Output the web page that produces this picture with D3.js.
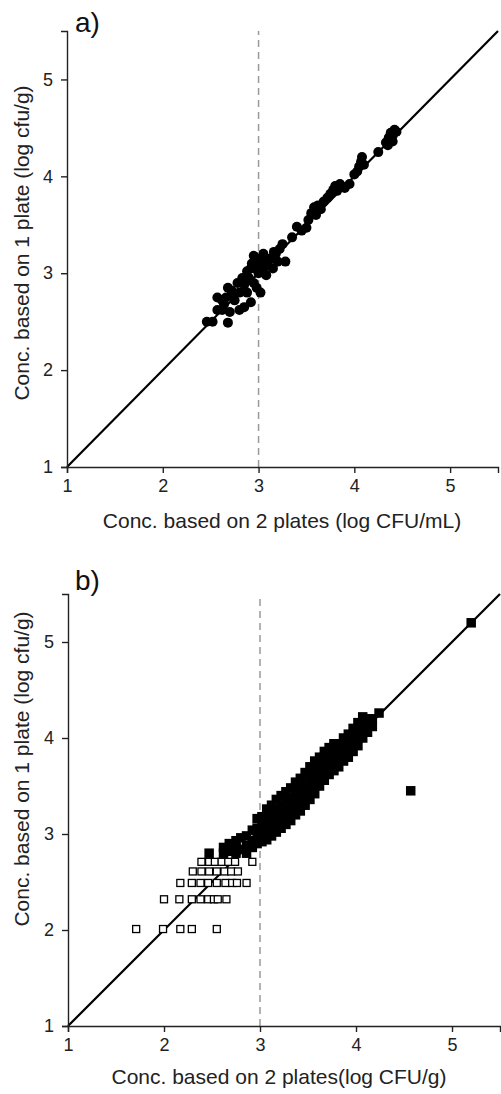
<!DOCTYPE html>
<html>
<head>
<meta charset="utf-8">
<script src="https://cdn.jsdelivr.net/npm/d3@7"></script>
<style>
  body { margin: 0; background: #fff; }
  svg { display: block; font-family: "Liberation Sans", Arial, sans-serif; }
</style>
</head>
<body>
<svg id="chart"></svg>
<script>
// tick labels shared by both panels
var tickVals = [1, 2, 3, 4, 5];
var domainMin = 1, domainMax = 5.5, cutoff = 3;

// panel a) points: [2 plates, 1 plate]
var panelAPoints = [
  [2.46,2.50],[2.52,2.50],[2.68,2.49],[2.57,2.62],[2.62,2.62],[2.70,2.60],[2.57,2.75],
  [2.62,2.72],[2.66,2.75],[2.75,2.72],[2.72,2.82],[2.80,2.80],[2.68,2.85],[2.78,2.90],
  [2.85,2.88],[2.90,2.95],[2.95,2.90],[2.88,3.02],[2.97,3.05],[3.00,3.00],[2.93,3.10],
  [2.98,3.15],[3.03,3.12],[3.05,3.05],[3.08,2.98],[3.10,3.08],[3.15,3.05],[3.12,3.15],
  [3.18,3.20],[3.20,3.12],[3.22,3.25],[3.25,3.30],[3.28,3.12],[3.02,2.80],[2.88,2.80],
  [2.98,2.85],[2.85,2.65],[2.80,2.62],[2.95,3.18],[3.05,3.20],[3.00,3.08],[2.92,2.70],
  [2.74,2.78],[2.83,2.95],[2.92,3.05],[3.08,3.15],[3.16,3.22],[2.64,2.68],
  [3.35,3.37],[3.40,3.48],[3.50,3.47],[3.52,3.55],[3.55,3.62],[3.58,3.68],[3.60,3.60],
  [3.62,3.70],[3.65,3.66],[3.72,3.78],[3.75,3.82],[3.78,3.86],[3.80,3.90],[3.82,3.85],
  [3.85,3.92],[3.88,3.89],[3.90,3.88],[3.95,3.92],[3.68,3.74],[3.45,3.44],
  [4.00,4.02],[4.03,4.05],[4.05,4.10],[4.07,4.15],[4.08,4.20],[4.10,4.12],[4.25,4.25],
  [4.33,4.35],[4.36,4.40],[4.38,4.45],[4.40,4.42],[4.42,4.48],[4.44,4.46],[4.40,4.36],
  [4.35,4.32]
];

// panel b) filled squares, by column: [2 plates, [1 plate values]]
var panelBFilledCols = [
  [2.47,[2.80]],
  [2.62,[2.80,2.86]],
  [2.68,[2.82,2.90]],
  [2.75,[2.80,2.86,2.93]],
  [2.80,[2.84,2.96]],
  [2.86,[2.80,2.88,2.98]],
  [2.92,[2.86,2.93,3.04]],
  [2.97,[2.90,2.98,3.06,3.16]],
  [3.02,[2.92,3.00,3.08,3.18]],
  [3.07,[2.94,3.02,3.10,3.18,3.26]],
  [3.12,[2.98,3.06,3.14,3.22,3.30]],
  [3.17,[3.02,3.10,3.18,3.26,3.36]],
  [3.22,[3.06,3.14,3.22,3.30,3.40]],
  [3.27,[3.10,3.18,3.26,3.34,3.44]],
  [3.32,[3.14,3.22,3.30,3.38,3.48]],
  [3.37,[3.20,3.28,3.36,3.44,3.54]],
  [3.42,[3.24,3.32,3.40,3.48,3.58]],
  [3.47,[3.30,3.38,3.46,3.54,3.64]],
  [3.52,[3.36,3.44,3.52,3.60,3.70]],
  [3.57,[3.42,3.50,3.58,3.66,3.76]],
  [3.62,[3.50,3.58,3.66,3.74,3.80]],
  [3.67,[3.56,3.64,3.72,3.80,3.86]],
  [3.72,[3.62,3.70,3.78,3.86,3.90]],
  [3.77,[3.66,3.74,3.82,3.90,3.94]],
  [3.82,[3.70,3.78,3.86,3.94]],
  [3.87,[3.76,3.84,3.92,4.00]],
  [3.92,[3.80,3.88,3.96,4.04]],
  [3.97,[3.86,3.94,4.02,4.10]],
  [4.02,[3.92,4.00,4.08,4.16]],
  [4.07,[4.00,4.08,4.16,4.22]],
  [4.12,[4.06,4.14,4.20]],
  [4.17,[4.12,4.20]],
  [4.24,[4.26]],
  [4.57,[3.45]],
  [5.20,[5.20]]
];

// panel b) open squares, by row: [1 plate, [2 plates values]]
var panelBOpenRows = [
  [2.01,[1.71,1.99,2.17,2.29,2.55]],
  [2.32,[2.00,2.16,2.29,2.38,2.46,2.52,2.56,2.65]],
  [2.49,[2.17,2.29,2.38,2.46,2.55,2.64,2.71,2.76,2.86]],
  [2.61,[2.30,2.39,2.47,2.55,2.63,2.70,2.77]],
  [2.71,[2.39,2.47,2.53,2.60,2.67,2.74,2.92]]
];

var W = 501, H = 1094;
var svg = d3.select("#chart").attr("width", W).attr("height", H);

var panels = [
  {label: "a)", labelPos: [75, 32], xr: [67, 498], yr: [467, 31],
   xTitle: "Conc. based on 2 plates (log CFU/mL)", xTitlePos: [282, 528],
   yTitle: "Conc. based on 1 plate (log cfu/g)", yTitlePos: [29, 243]},
  {label: "b)", labelPos: [75, 590], xr: [68, 500], yr: [1026, 594],
   xTitle: "Conc. based on 2 plates(log CFU/g)", xTitlePos: [279, 1084],
   yTitle: "Conc. based on 1 plate (log cfu/g)", yTitlePos: [29, 769]}
];

panels.forEach(function(p, i) {
  var x = d3.scaleLinear().domain([domainMin, domainMax]).range(p.xr);
  var y = d3.scaleLinear().domain([domainMin, domainMax]).range(p.yr);
  var g = svg.append("g");

  // cutoff line at 3
  g.append("line")
    .attr("x1", x(cutoff)).attr("x2", x(cutoff))
    .attr("y1", y(domainMin)).attr("y2", y(domainMax))
    .attr("stroke", "#9a9a9a").attr("stroke-width", 1.5)
    .attr("stroke-dasharray", "7,5");

  // 1:1 line
  g.append("line")
    .attr("x1", x(domainMin)).attr("y1", y(domainMin))
    .attr("x2", x(domainMax)).attr("y2", y(domainMax))
    .attr("stroke", "#000").attr("stroke-width", 2.2);

  // axes
  var fmt = d3.format("d");
  var xAxis = g.append("g")
    .attr("transform", "translate(0," + p.yr[0] + ")")
    .call(d3.axisBottom(x).tickValues(tickVals).tickFormat(fmt)
      .tickSizeOuter(0).tickSize(6).tickPadding(6));
  var yAxis = g.append("g")
    .attr("transform", "translate(" + p.xr[0] + ",0)")
    .call(d3.axisLeft(y).tickValues(tickVals).tickFormat(fmt)
      .tickSizeOuter(0).tickSize(6).tickPadding(8));
  [xAxis, yAxis].forEach(function(a) {
    a.select(".domain").attr("stroke", "#222").attr("stroke-width", 1.4);
    a.selectAll(".tick line").attr("stroke", "#222").attr("stroke-width", 1.4);
    a.selectAll(".tick text").attr("font-size", 18).attr("fill", "#222")
      .attr("font-family", "Liberation Sans, Arial, sans-serif");
  });

  if (i === 0) {
    g.selectAll("circle.pt")
      .data(panelAPoints)
      .join("circle")
      .attr("class", "pt")
      .attr("cx", function(d) { return x(d[0]); })
      .attr("cy", function(d) { return y(d[1]); })
      .attr("r", 5)
      .attr("fill", "#000");
  } else {
    var openPts = [];
    panelBOpenRows.forEach(function(r) {
      r[1].forEach(function(v) { openPts.push([v, r[0]]); });
    });
    var filledPts = [];
    panelBFilledCols.forEach(function(c) {
      c[1].forEach(function(v) { filledPts.push([c[0], v]); });
    });
    var so = 7, sf = 9.5;
    g.selectAll("rect.open")
      .data(openPts)
      .join("rect")
      .attr("class", "open")
      .attr("x", function(d) { return x(d[0]) - so / 2; })
      .attr("y", function(d) { return y(d[1]) - so / 2; })
      .attr("width", so).attr("height", so)
      .attr("fill", "#fff").attr("stroke", "#000").attr("stroke-width", 1.3);
    g.selectAll("rect.filled")
      .data(filledPts)
      .join("rect")
      .attr("class", "filled")
      .attr("x", function(d) { return x(d[0]) - sf / 2; })
      .attr("y", function(d) { return y(d[1]) - sf / 2; })
      .attr("width", sf).attr("height", sf)
      .attr("fill", "#000");
  }

  // titles
  g.append("text")
    .attr("x", p.labelPos[0]).attr("y", p.labelPos[1])
    .attr("font-size", 28).attr("fill", "#111")
    .text(p.label);
  g.append("text")
    .attr("x", p.xTitlePos[0]).attr("y", p.xTitlePos[1])
    .attr("text-anchor", "middle").attr("font-size", 21).attr("fill", "#222")
    .text(p.xTitle);
  g.append("text")
    .attr("transform", "translate(" + p.yTitlePos[0] + "," + p.yTitlePos[1] + ") rotate(-90)")
    .attr("text-anchor", "middle").attr("font-size", 21).attr("fill", "#222")
    .text(p.yTitle);
});
</script>
</body>
</html>
